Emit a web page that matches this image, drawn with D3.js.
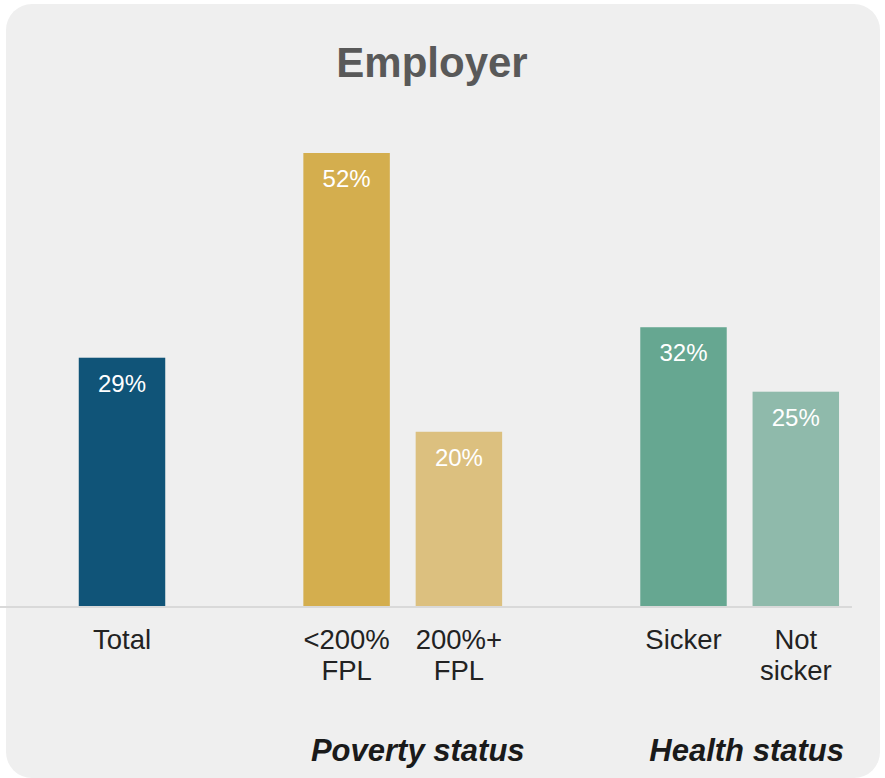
<!DOCTYPE html>
<html>
<head>
<meta charset="utf-8">
<script src="https://cdn.jsdelivr.net/npm/d3@7"></script>
<style>
  html, body { margin: 0; padding: 0; background: #ffffff; }
  svg { display: block; }
  text { font-family: "Liberation Sans", Arial, sans-serif; }
</style>
</head>
<body>
<svg id="chart" width="885" height="778"></svg>
<script>
// ---- data ----
const title = "Employer";
const categories = ["Total", "<200%\nFPL", "200%+\nFPL", "Sicker", "Not\nsicker"];
const values = [28.5, 52, 20, 32, 24.6];
const valueLabels = ["29%", "52%", "20%", "32%", "25%"];
const colors = ["#105478", "#d4ae4e", "#dcc07f", "#66a791", "#8fbaab"];
// slot layout (with blank spacer slots between groups)
const slots = ["Total", "gap1", "<200%\nFPL", "200%+\nFPL", "gap2", "Sicker", "Not\nsicker"];
const groupNames = ["Poverty status", "Health status"];
const groupMembers = [["<200%\nFPL", "200%+\nFPL"], ["Sicker", "Not\nsicker"]];

// ---- drawing ----
const svg = d3.select("#chart");

svg.append("rect")
  .attr("x", 6).attr("y", 4).attr("width", 874).attr("height", 774)
  .attr("rx", 26).attr("ry", 26)
  .attr("fill", "#efefef");

svg.append("text")
  .attr("x", 432).attr("y", 77)
  .attr("text-anchor", "middle")
  .attr("font-size", 42).attr("font-weight", "bold")
  .attr("fill", "#595959")
  .text(title);

const baseY = 606;
const x = d3.scaleBand().domain(slots).range([65.85, 851.95])
  .paddingInner(0.23).paddingOuter(0.115);
const y = d3.scaleLinear().domain([0, 52]).range([baseY, 153]);

const data = categories.map((c, i) => ({c, v: values[i], label: valueLabels[i], color: colors[i]}));

svg.selectAll("rect.bar").data(data).enter().append("rect")
  .attr("class", "bar")
  .attr("x", d => x(d.c))
  .attr("width", x.bandwidth())
  .attr("y", d => y(d.v))
  .attr("height", d => y(0) - y(d.v))
  .attr("fill", d => d.color);

svg.selectAll("text.val").data(data).enter().append("text")
  .attr("class", "val")
  .attr("x", d => x(d.c) + x.bandwidth() / 2)
  .attr("y", d => y(d.v) + 34)
  .attr("text-anchor", "middle")
  .attr("font-size", 24)
  .attr("fill", "#ffffff")
  .text(d => d.label);

// axis baseline
const axis = d3.axisBottom(x).tickSize(0).tickFormat("");
const axG = svg.append("g").attr("transform", `translate(0,${baseY + 1})`).call(axis);
axG.select(".domain").attr("stroke", "#d9d9d9").attr("stroke-width", 2)
  .attr("d", `M0,0H${x.range()[1]}`);

// category labels
const catG = svg.append("g");
data.forEach(d => {
  const cx = x(d.c) + x.bandwidth() / 2;
  const t = catG.append("text")
    .attr("x", cx)
    .attr("y", 649)
    .attr("text-anchor", "middle")
    .attr("font-size", 27.5)
    .attr("fill", "#222222");
  d.c.split("\n").forEach((line, i) => {
    t.append("tspan")
      .attr("x", cx)
      .attr("dy", i === 0 ? 0 : 31)
      .text(line);
  });
});

// group labels
const groupOffsets = [15, 7];
groupNames.forEach((g, gi) => {
  const mem = groupMembers[gi];
  const left = x(mem[0]);
  const right = x(mem[mem.length - 1]) + x.bandwidth();
  svg.append("text")
    .attr("x", (left + right) / 2 + groupOffsets[gi])
    .attr("y", 761)
    .attr("text-anchor", "middle")
    .attr("font-size", 31)
    .attr("font-weight", "bold")
    .attr("font-style", "italic")
    .attr("fill", "#1a1a1a")
    .text(g);
});
</script>
</body>
</html>
